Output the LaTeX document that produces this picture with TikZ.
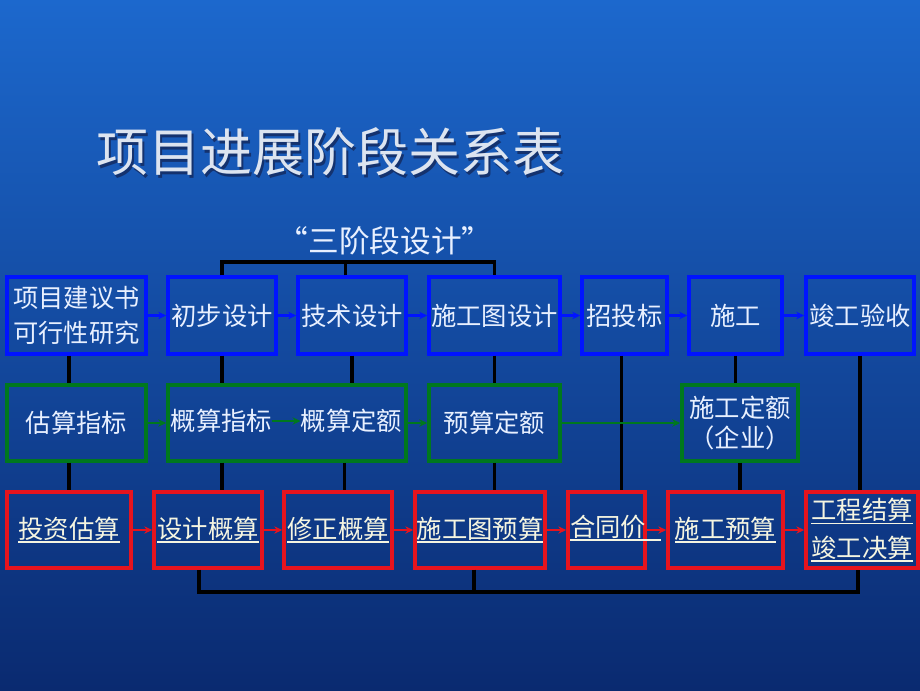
\documentclass[tikz,border=0pt]{standalone}
\usepackage{fontspec}
\setmainfont{Noto Sans CJK SC}
\usetikzlibrary{arrows.meta}
\definecolor{bgtop}{RGB}{28,104,205}
\definecolor{bgmid}{RGB}{16,74,168}
\definecolor{bgbot}{RGB}{10,42,112}
\definecolor{bblue}{RGB}{0,20,255}
\definecolor{bgreen}{RGB}{0,120,30}
\definecolor{bred}{RGB}{230,20,30}
\definecolor{txt}{RGB}{232,240,255}
\definecolor{txtr}{RGB}{245,245,225}
\definecolor{ttl}{RGB}{220,228,240}
\definecolor{shd}{RGB}{20,50,110}
\newcommand\myul[1]{\setbox0\hbox{#1}\rlap{\rule[-3.5pt]{\wd0}{1.3pt}}\box0}
\tikzset{
  boxbase/.style={line width=2.6pt, inner sep=0pt, text=txt, align=center,
    font=\fontsize{19}{26}\selectfont},
  bluebox/.style={boxbase, draw=bblue, minimum height=57.75pt},
  greenbox/.style={boxbase, draw=bgreen, minimum height=57pt},
  redbox/.style={boxbase, draw=bred, minimum height=57pt, text=txtr},
  conn/.style={draw=black, line width=2.5pt},
  barrow/.style={draw=bblue, line width=1.8pt, -{Stealth[length=6pt,width=5.5pt]}},
  garrow/.style={draw=bgreen, line width=1.8pt, -{Stealth[length=6pt,width=5.5pt]}},
  rarrow/.style={draw=bred, line width=1.8pt, -{Stealth[length=6pt,width=5.5pt]}},
  plain/.style={text=txt, inner sep=0pt, font=\fontsize{19}{26}\selectfont},
  ttlstyle/.style={inner sep=0pt, font=\fontsize{39}{46}\selectfont}
}
\begin{document}
\begin{tikzpicture}[x=0.75pt,y=-0.75pt]
\shade[top color=bgtop, middle color=bgmid, bottom color=bgbot] (0,0) rectangle (920,690);
\useasboundingbox (0,0) rectangle (920,690);
% title
\node[ttlstyle, text=shd] (tshadow) at (332.5,154.5) {项目进展阶段关系表};
\node[ttlstyle, text=ttl] (title) at (330,152) {项目进展阶段关系表};
\node[plain, font=\fontsize{23}{28}\selectfont] (three) at (385,241) {“三阶段设计”};
% row 1
\node[bluebox, minimum width=104.25pt] (a1) at (76.5,315.5) {项目建议书\\可行性研究};
\node[bluebox, minimum width=81pt] (a2) at (222,315.5) {初步设计};
\node[bluebox, minimum width=81pt] (a3) at (352,315.5) {技术设计};
\node[bluebox, minimum width=98.25pt] (a4) at (494.5,315.5) {施工图设计};
\node[bluebox, minimum width=63.75pt] (a5) at (624.5,315.5) {招投标};
\node[bluebox, minimum width=69.75pt] (a6) at (735.5,315.5) {施工};
\node[bluebox, minimum width=81pt] (a7) at (860,315.5) {竣工验收};
% row 2
\node[greenbox, minimum width=104.25pt] (b1) at (76.5,423) {估算指标};
\node[greenbox, minimum width=178.5pt] (b2) at (287,423) {};
\node[plain] (b2l) at (221.5,421) {概算指标};
\node[plain] (b2r) at (351.5,421) {概算定额};
\node[greenbox, minimum width=98.25pt] (b3) at (494.5,423) {预算定额};
\node[greenbox, minimum width=87pt, font=\fontsize{19}{23}\selectfont] (b4) at (740,423) {施工定额\\（企业）};
% row 3
\node[redbox, minimum width=93pt] (c1) at (69,530) {\myul{投资估算}};
\node[redbox, minimum width=81pt] (c2) at (208,530) {\myul{设计概算}};
\node[redbox, minimum width=81pt] (c3) at (338,530) {\myul{修正概算}};
\node[redbox, minimum width=97.5pt] (c4) at (480,530) {\myul{施工图预算}};
\node[redbox, minimum width=57.75pt] (c5) at (606.5,530) {};
\node[plain, text=txtr, anchor=west] (c5t) at (570,528) {\myul{合同价\hspace{0.6em}}};
\node[redbox, minimum width=86.25pt] (c6) at (725.5,530) {\myul{施工预算}};
\node[redbox, minimum width=84pt] (c7) at (862,530) {\myul{工程结算}\\[2pt]\myul{竣工决算}};
% brackets
\coordinate (tb) at (0,262);
\coordinate (bb) at (0,592);
\draw[conn] (a2.north) |- (a4.north |- tb) -- (a4.north);
\draw[conn] ([xshift=-5pt]a3.north) -- ([xshift=-5pt]a3.north |- tb);
\draw[conn] ([xshift=-6.75pt]c2.south) |- ([xshift=-3pt]c7.south |- bb) -- ([xshift=-3pt]c7.south);
\draw[conn] ([xshift=-4.5pt]c4.south) -- ([xshift=-4.5pt]c4.south |- bb);
% verticals
\draw[conn] ([xshift=-5.6pt]a1.south) -- ([xshift=-5.6pt]b1.north);
\draw[conn] ([xshift=-5.6pt]b1.south) -- ([xshift=-5.6pt]b1.south |- c1.north);
\draw[conn] (a2.south) -- (a2.south |- b2.north);
\draw[conn] (a2 |- b2.south) -- (a2 |- c2.north);
\draw[conn] (a3.south) -- (a3.south |- b2.north);
\draw[conn] ([xshift=5pt]c3 |- b2.south) -- ([xshift=5pt]c3.north);
\draw[conn] (a4.south) -- (b3.north);
\draw[conn] (b3.south) -- (b3.south |- c4.north);
\draw[conn] ([xshift=-2.5pt]a5.south) -- ([xshift=-2.5pt]a5.south |- c5.north);
\draw[conn] (a6.south) -- (a6.south |- b4.north);
\draw[conn] (b4.south) -- (b4.south |- c6.north);
\draw[conn] (a7.south) -- (a7.south |- c7.north);
% arrows
\draw[barrow] (a1.east) -- (a2.west);
\draw[barrow] (a2.east) -- (a3.west);
\draw[barrow] (a3.east) -- (a4.west);
\draw[barrow] (a4.east) -- (a5.west);
\draw[barrow] (a5.east) -- (a6.west);
\draw[barrow] (a6.east) -- (a7.west);
\draw[garrow] (b1.east) -- (b2.west);
\draw[garrow] (b2l.east) -- (b2r.west);
\draw[garrow] (b2.east) -- (b3.west);
\draw[garrow] (b3.east) -- (b4.west);
\draw[rarrow] (c1.east) -- (c2.west);
\draw[rarrow] (c2.east) -- (c3.west);
\draw[rarrow] (c3.east) -- (c4.west);
\draw[rarrow] (c4.east) -- (c5.west);
\draw[rarrow] (c5.east) -- (c6.west);
\draw[rarrow] (c6.east) -- (c7.west);
\end{tikzpicture}
\end{document}
